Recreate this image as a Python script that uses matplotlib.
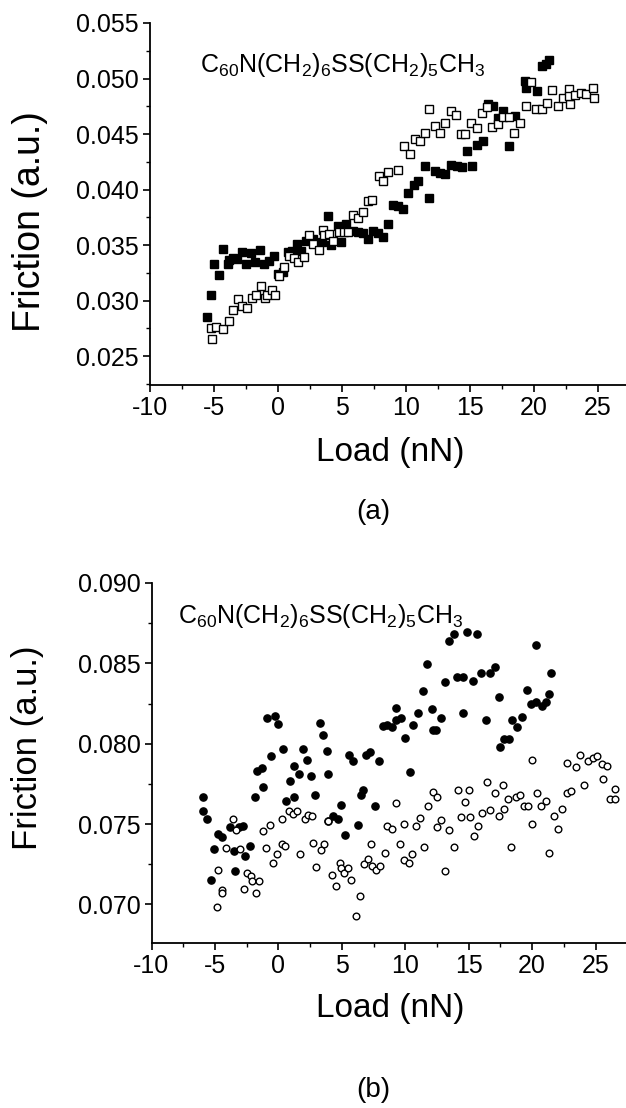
import matplotlib
matplotlib.use("Agg")
import matplotlib.pyplot as plt
from matplotlib.ticker import MultipleLocator, FormatStrFormatter

plt.rcParams['font.family'] = ['Liberation Sans', 'DejaVu Sans']
plt.rcParams['mathtext.fontset'] = 'custom'
plt.rcParams['mathtext.rm'] = 'Liberation Sans'
plt.rcParams['mathtext.it'] = 'Liberation Sans'
plt.rcParams['axes.unicode_minus'] = False

# (a) filled squares
a_filled_load = [-5.51, -5.22, -4.96, -4.64, -4.27, -3.90, -3.85, -3.53, -3.21, -2.84,
                 -2.47, -2.13, -1.76, -1.39, -1.10, -0.68, -0.31, 0.01, 0.41, 0.80,
                 1.09, 1.49, 1.83, 2.23, 2.70, 3.05, 3.42, 3.89, 4.18, 4.69,
                 4.92, 5.35, 5.87, 6.27, 6.61, 7.04, 7.41, 7.83, 8.23, 8.57,
                 9.02, 9.36, 9.81, 10.15, 10.63, 10.95, 11.47, 11.82, 12.27, 12.66,
                 13.06, 13.53, 13.98, 14.38, 14.80, 15.17, 15.57, 16.02, 16.44, 16.84,
                 17.18, 17.60, 18.08, 18.50, 19.34, 19.37, 20.24, 20.67, 20.98, 21.17]
a_filled_fric = [0.02851, 0.03046, 0.03328, 0.03232, 0.03469, 0.03328, 0.03370, 0.03382, 0.03376, 0.03436,
                 0.03331, 0.03430, 0.03349, 0.03454, 0.03331, 0.03358, 0.03406, 0.03241, 0.03259, 0.03442,
                 0.03448, 0.03511, 0.03451, 0.03541, 0.03559, 0.03520, 0.03526, 0.03763, 0.03502, 0.03670,
                 0.03529, 0.03691, 0.03625, 0.03616, 0.03610, 0.03556, 0.03625, 0.03610, 0.03574, 0.03691,
                 0.03865, 0.03850, 0.03829, 0.03970, 0.04045, 0.04075, 0.04216, 0.03925, 0.04171, 0.04153,
                 0.04144, 0.04225, 0.04210, 0.04204, 0.04345, 0.04210, 0.04399, 0.04435, 0.04771, 0.04756,
                 0.04645, 0.04711, 0.04390, 0.04666, 0.04981, 0.04915, 0.04891, 0.05110, 0.05131, 0.05170]

# (a) open squares
a_open_load = [-5.17, -5.25, -4.85, -4.29, -3.85, -3.48, -3.16, -2.84, -2.45, -2.05,
               -1.68, -1.34, -0.99, -0.86, -0.49, -0.23, 0.12, 0.49, 0.86, 1.23,
               1.57, 2.02, 2.44, 2.76, 3.23, 3.55, 3.63, 4.00, 4.34, 4.76,
               5.13, 5.48, 5.87, 6.27, 6.67, 7.06, 7.38, 7.93, 8.20, 8.62,
               9.41, 9.84, 10.31, 10.68, 11.08, 11.47, 11.84, 12.27, 12.66, 13.06,
               13.53, 13.90, 14.30, 14.64, 15.12, 15.59, 15.96, 16.36, 16.76, 17.23,
               17.60, 18.08, 18.42, 18.92, 19.40, 19.79, 20.19, 20.61, 21.04, 21.43,
               21.91, 22.30, 22.78, 22.83, 22.78, 23.25, 23.68, 24.10, 24.63, 24.68]
a_open_fric = [0.02650, 0.02749, 0.02761, 0.02740, 0.02815, 0.02911, 0.03016, 0.02950, 0.02935, 0.03022,
               0.03046, 0.03136, 0.03022, 0.03055, 0.03100, 0.03049, 0.03220, 0.03304, 0.03406, 0.03385,
               0.03346, 0.03397, 0.03595, 0.03511, 0.03454, 0.03634, 0.03595, 0.03601, 0.03541, 0.03616,
               0.03616, 0.03616, 0.03769, 0.03745, 0.03796, 0.03895, 0.03910, 0.04120, 0.04075, 0.04156,
               0.04180, 0.04390, 0.04321, 0.04456, 0.04438, 0.04510, 0.04726, 0.04570, 0.04510, 0.04600,
               0.04711, 0.04675, 0.04501, 0.04504, 0.04600, 0.04555, 0.04690, 0.04744, 0.04564, 0.04594,
               0.04654, 0.04654, 0.04510, 0.04600, 0.04750, 0.04966, 0.04729, 0.04729, 0.04780, 0.04894,
               0.04750, 0.04825, 0.04906, 0.04774, 0.04840, 0.04849, 0.04870, 0.04861, 0.04915, 0.04822]

# (b) filled circles
b_filled_load = [-5.93, -5.93, -5.61, -5.34, -5.05, -4.73, -4.41, -3.85, -3.48, -3.40,
                 -3.13, -2.81, -2.60, -2.20, -1.86, -1.67, -1.27, -1.22, -0.87, -0.60,
                 -0.28, 0.01, 0.33, 0.59, 0.94, 1.26, 1.26, 1.61, 1.92, 2.27,
                 2.59, 2.86, 3.26, 3.52, 3.87, 3.95, 3.95, 4.27, 4.67, 4.91,
                 5.25, 5.60, 5.92, 6.26, 6.53, 6.66, 6.93, 7.25, 7.65, 7.97,
                 8.26, 8.58, 8.92, 9.24, 9.30, 9.64, 9.99, 10.39, 10.65, 10.97,
                 11.37, 11.69, 12.09, 12.17, 12.44, 12.84, 13.10, 13.42, 13.85, 14.11,
                 14.57, 14.57, 14.89, 15.31, 15.69, 15.98, 16.35, 16.70, 17.04, 17.36,
                 17.44, 17.76, 18.16, 18.43, 18.83, 19.17, 19.57, 19.89, 20.29, 20.34,
                 20.77, 21.09, 21.35, 21.49]
b_filled_fric = [0.07669, 0.07580, 0.07532, 0.07155, 0.07346, 0.07439, 0.07420, 0.07482, 0.07335, 0.07207,
                 0.07482, 0.07487, 0.07300, 0.07362, 0.07669, 0.07828, 0.07849, 0.07729, 0.08163, 0.07921,
                 0.08173, 0.08125, 0.07967, 0.07642, 0.07770, 0.07669, 0.07859, 0.07814, 0.07967, 0.07901,
                 0.07797, 0.07683, 0.08129, 0.08052, 0.07952, 0.07814, 0.07518, 0.07549, 0.07532, 0.07621,
                 0.07429, 0.07932, 0.07890, 0.07497, 0.07683, 0.07714, 0.07932, 0.07948, 0.07615, 0.07890,
                 0.08108, 0.08119, 0.08104, 0.08150, 0.08223, 0.08163, 0.08037, 0.07822, 0.08117, 0.08194,
                 0.08329, 0.08496, 0.08213, 0.08087, 0.08087, 0.08163, 0.08385, 0.08642, 0.08683, 0.08417,
                 0.08417, 0.08192, 0.08698, 0.08390, 0.08683, 0.08442, 0.08146, 0.08438, 0.08479, 0.08288,
                 0.07977, 0.08031, 0.08031, 0.08146, 0.08104, 0.08167, 0.08337, 0.08246, 0.08615, 0.08260,
                 0.08233, 0.08260, 0.08308, 0.08442]

# (b) open circles
b_open_load = [-4.86, -4.73, -4.46, -4.41, -4.14, -3.59, -3.32, -3.00, -2.73, -2.47,
               -2.15, -2.07, -1.80, -1.54, -1.22, -0.95, -0.66, -0.39, -0.07, 0.27,
               0.27, 0.54, 0.86, 1.13, 1.45, 1.74, 2.06, 2.32, 2.67, 2.72,
               2.99, 3.34, 3.57, 3.92, 4.19, 4.53, 4.85, 4.93, 5.17, 5.46,
               5.73, 6.13, 6.40, 6.72, 7.03, 7.33, 7.38, 7.73, 7.99, 8.39,
               8.58, 8.92, 9.24, 9.59, 9.91, 9.91, 10.26, 10.57, 10.84, 11.19,
               11.51, 11.83, 12.17, 12.49, 12.52, 12.84, 13.16, 13.45, 13.82, 14.17,
               14.38, 14.70, 15.05, 15.10, 15.42, 15.77, 16.08, 16.43, 16.70, 17.04,
               17.36, 17.68, 17.76, 18.11, 18.37, 18.75, 19.04, 19.33, 19.68, 20.02,
               20.02, 20.37, 20.69, 21.09, 21.35, 21.75, 22.02, 22.37, 22.74, 22.77,
               23.08, 23.43, 23.80, 24.07, 24.42, 24.82, 25.08, 25.48, 25.56, 25.88,
               26.15, 26.55, 26.55]
b_open_fric = [0.06983, 0.07217, 0.07089, 0.07068, 0.07352, 0.07532, 0.07466, 0.07346, 0.07093, 0.07197,
               0.07180, 0.07145, 0.07068, 0.07145, 0.07455, 0.07352, 0.07495, 0.07255, 0.07311, 0.07532,
               0.07379, 0.07362, 0.07580, 0.07565, 0.07580, 0.07315, 0.07532, 0.07559, 0.07549, 0.07383,
               0.07234, 0.07337, 0.07379, 0.07518, 0.07186, 0.07114, 0.07255, 0.07228, 0.07193, 0.07228,
               0.07149, 0.06928, 0.07052, 0.07253, 0.07280, 0.07373, 0.07238, 0.07213, 0.07238, 0.07321,
               0.07487, 0.07470, 0.07631, 0.07377, 0.07275, 0.07503, 0.07255, 0.07311, 0.07491, 0.07538,
               0.07356, 0.07615, 0.07698, 0.07669, 0.07482, 0.07524, 0.07207, 0.07462, 0.07356, 0.07710,
               0.07545, 0.07636, 0.07710, 0.07545, 0.07424, 0.07491, 0.07569, 0.07760, 0.07586, 0.07694,
               0.07549, 0.07745, 0.07596, 0.07656, 0.07356, 0.07669, 0.07683, 0.07615, 0.07611, 0.07896,
               0.07501, 0.07694, 0.07615, 0.07646, 0.07321, 0.07549, 0.07470, 0.07596, 0.07694, 0.07880,
               0.07704, 0.07855, 0.07932, 0.07745, 0.07890, 0.07911, 0.07925, 0.07876, 0.07781, 0.07863,
               0.07656, 0.07656, 0.07720]

compound = r"C$_{60}$N(CH$_2$)$_6$SS(CH$_2$)$_5$CH$_3$"

W, H = 626, 1108
fig = plt.figure(figsize=(W / 100, H / 100), dpi=100)

ax1 = fig.add_axes([150 / W, 1 - 385 / H, (W - 150) / W, (385 - 23) / H])
ax2 = fig.add_axes([151.5 / W, 1 - 943 / H, (W - 151.5) / W, (943 - 583) / H])

ax1.plot(a_filled_load, a_filled_fric, 's', ms=5.2, color='black', mec='black', ls='none')
ax1.plot(a_open_load, a_open_fric, 's', ms=5.2, mfc='white', mec='black', mew=1.0, ls='none')
ax1.set_xlim(-10, 27.2)
ax1.set_ylim(0.0224, 0.055)
ax1.yaxis.set_major_locator(MultipleLocator(0.005))
ax1.yaxis.set_minor_locator(MultipleLocator(0.0025))
ax1.text(-6.1, 0.0506, compound, fontsize=18, va='baseline')

ax2.plot(b_filled_load, b_filled_fric, 'o', ms=5.2, color='black', ls='none')
ax2.plot(b_open_load, b_open_fric, 'o', ms=4.8, mfc='white', mec='black', mew=1.0, ls='none')
ax2.set_xlim(-10, 27.4)
ax2.set_ylim(0.0676, 0.090)
ax2.yaxis.set_major_locator(MultipleLocator(0.005))
ax2.yaxis.set_minor_locator(MultipleLocator(0.0025))
ax2.text(-7.9, 0.0875, compound, fontsize=18, va='baseline')

for ax in (ax1, ax2):
    ax.xaxis.set_major_locator(MultipleLocator(5))
    ax.xaxis.set_minor_locator(MultipleLocator(2.5))
    ax.yaxis.set_major_formatter(FormatStrFormatter('%.3f'))
    ax.spines['top'].set_visible(False)
    ax.spines['right'].set_visible(False)
    for s in ('left', 'bottom'):
        ax.spines[s].set_linewidth(1.3)
    ax.tick_params(which='major', direction='out', length=5, width=1.2, labelsize=18, pad=3)
    ax.tick_params(which='minor', direction='out', length=3, width=1.0)
    ax.set_facecolor('none')

fig.text(30 / W, 1 - 222 / H, 'Friction (a.u.)', rotation=90, ha='center', va='center', fontsize=27)
fig.text(390 / W, 1 - 453 / H, 'Load (nN)', ha='center', va='center', fontsize=24)
fig.text(373 / W, 1 - 512 / H, '(a)', ha='center', va='center', fontsize=20)

fig.text(28 / W, 1 - 748 / H, 'Friction (a.u.)', rotation=90, ha='center', va='center', fontsize=25)
fig.text(390 / W, 1 - 1008 / H, 'Load (nN)', ha='center', va='center', fontsize=24)
fig.text(373 / W, 1 - 1090 / H, '(b)', ha='center', va='center', fontsize=20)

fig.savefig('out.png', dpi=100)
